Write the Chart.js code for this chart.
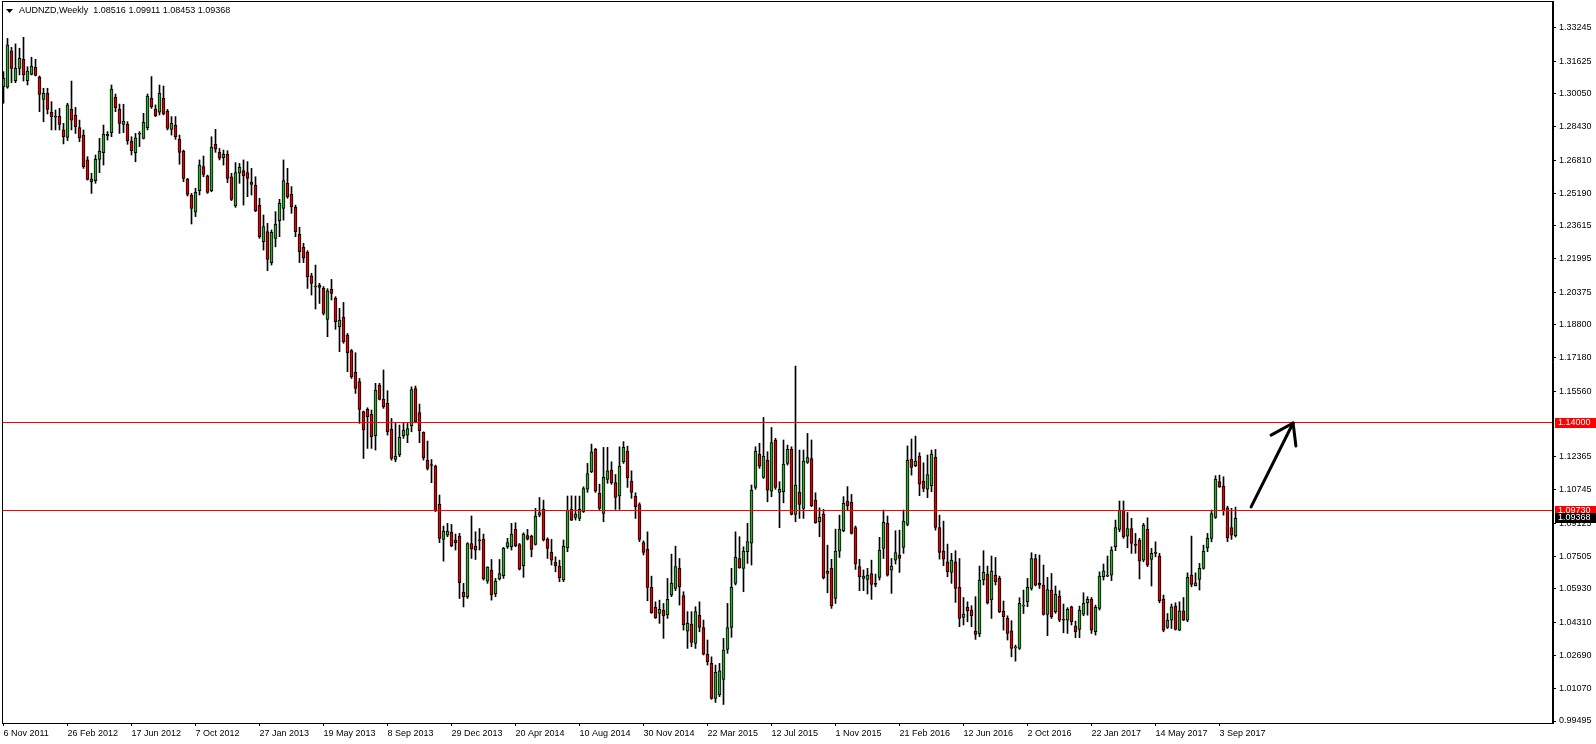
<!DOCTYPE html>
<html>
<head>
<meta charset="utf-8">
<title>AUDNZD, Weekly</title>
<script src="https://cdn.jsdelivr.net/npm/chart.js@4.4.1/dist/chart.umd.min.js"></script>
<style>
  html, body { margin: 0; padding: 0; background: #ffffff; }
  #wrap { width: 1596px; height: 744px; }
</style>
</head>
<body>
<div id="wrap"><canvas id="myChart" width="1596" height="744"></canvas></div>
<script>
// data: SYMBOL, AXIS LABELS
var symbolName = "AUDNZD";
var timeframe = "Weekly";
var xTickLabels = ["6 Nov 2011", "26 Feb 2012", "17 Jun 2012", "7 Oct 2012", "27 Jan 2013", "19 May 2013",
    "8 Sep 2013", "29 Dec 2013", "20 Apr 2014", "10 Aug 2014", "30 Nov 2014", "22 Mar 2015", "12 Jul 2015",
    "1 Nov 2015", "21 Feb 2016", "12 Jun 2016", "2 Oct 2016", "22 Jan 2017", "14 May 2017", "3 Sep 2017"];
var weeksPerLabel = 16;
var yTickValues = [1.33245, 1.31625, 1.30050, 1.28430, 1.26810, 1.25190, 1.23615, 1.21995, 1.20375, 1.18800,
    1.17180, 1.15560, 1.12365, 1.10745, 1.09125, 1.07505, 1.05930, 1.04310, 1.02690, 1.01070, 0.99495];
var yMin = 0.993976;
var yMax = 1.345599;

// data: WEEKLY CANDLES (one value per week, starting 6 Nov 2011)
var opens = [
    1.3039, 1.3036, 1.3213, 1.3068, 1.3128, 1.3172, 1.3068, 1.3099, 1.3133, 1.3084,
    1.2977, 1.3006, 1.2914, 1.2896, 1.2894, 1.2828, 1.2792, 1.2928, 1.2901, 1.2839,
    1.2803, 1.2682, 1.2576, 1.2581, 1.2685, 1.2717, 1.2800, 1.2815, 1.2987, 1.2930,
    1.2855, 1.2855, 1.2774, 1.2717, 1.2807, 1.2787, 1.2839, 1.2982, 1.2930, 1.2914,
    1.2982, 1.2920, 1.2831, 1.2850, 1.2784, 1.2725, 1.2589, 1.2511, 1.2427, 1.2532,
    1.2649, 1.2604, 1.2532, 1.2758, 1.2719, 1.2693, 1.2709, 1.2600, 1.2458, 1.2617,
    1.2630, 1.2620, 1.2573, 1.2558, 1.2461, 1.2284, 1.2333, 1.2182, 1.2300, 1.2386,
    1.2446, 1.2568, 1.2514, 1.2451, 1.2320, 1.2256, 1.2232, 1.2117, 1.2063, 1.2073,
    1.2057, 1.1905, 1.2052, 1.2008, 1.1870, 1.1915, 1.1829, 1.1753, 1.1647, 1.1602,
    1.1456, 1.1467, 1.1443, 1.1339, 1.1586, 1.1516, 1.1496, 1.1371, 1.1224, 1.1245,
    1.1339, 1.1342, 1.1386, 1.1569, 1.1452, 1.1355, 1.1220, 1.1198, 1.1191, 1.1006,
    1.0834, 1.0855, 1.0870, 1.0831, 1.0850, 1.0576, 1.0555, 1.0814, 1.0801, 1.0831,
    1.0835, 1.0631, 1.0685, 1.0568, 1.0641, 1.0657, 1.0798, 1.0798, 1.0883, 1.0809,
    1.0706, 1.0852, 1.0850, 1.0809, 1.0952, 1.0980, 1.0835, 1.0771, 1.0722, 1.0704,
    1.0636, 1.0793, 1.0982, 1.0941, 1.0936, 1.0969, 1.1079, 1.1163, 1.1272, 1.1058,
    1.0960, 1.1126, 1.1172, 1.1111, 1.1046, 1.1212, 1.1264, 1.1118, 1.1045, 1.1004,
    1.0819, 1.0785, 1.0600, 1.0503, 1.0474, 1.0490, 1.0466, 1.0563, 1.0595, 1.0693,
    1.0560, 1.0387, 1.0422, 1.0327, 1.0465, 1.0404, 1.0275, 1.0230, 1.0059, 1.0076,
    1.0152, 1.0298, 1.0405, 1.0620, 1.0741, 1.0693, 1.0774, 1.0815, 1.1087, 1.1248,
    1.1136, 1.1220, 1.1069, 1.1318, 1.1063, 1.1066, 1.1204, 1.1272, 1.0956, 1.1063,
    1.0985, 1.1209, 1.1228, 1.1026, 1.0920, 1.0957, 1.0668, 1.0693, 1.0547, 1.0776,
    1.0876, 1.1021, 1.1014, 1.0892, 1.0701, 1.0644, 1.0639, 1.0668, 1.0620, 1.0649,
    1.0790, 1.0912, 1.0684, 1.0733, 1.0758, 1.0795, 1.0907, 1.1225, 1.1193, 1.1240,
    1.1118, 1.1079, 1.1095, 1.1233, 1.0892, 1.0777, 1.0725, 1.0673, 1.0725, 1.0600,
    1.0454, 1.0503, 1.0490, 1.0387, 1.0373, 1.0636, 1.0665, 1.0539, 1.0660, 1.0644,
    1.0485, 1.0449, 1.0389, 1.0305, 1.0303, 1.0509, 1.0530, 1.0595, 1.0741, 1.0620,
    1.0611, 1.0469, 1.0587, 1.0482, 1.0558, 1.0444, 1.0441, 1.0506, 1.0412, 1.0396,
    1.0470, 1.0525, 1.0542, 1.0384, 1.0498, 1.0652, 1.0655, 1.0660, 1.0798, 1.0883,
    1.0977, 1.0850, 1.0887, 1.0811, 1.0831, 1.0733, 1.0883, 1.0736, 1.0770, 1.0753,
    1.0543, 1.0405, 1.0441, 1.0509, 1.0392, 1.0486, 1.0441, 1.0660, 1.0608, 1.0639,
    1.0693, 1.0793, 1.0839, 1.0941, 1.1115, 1.1094, 1.0988, 1.0891, 1.08516
];
var highs = [
    1.3112, 1.3274, 1.3230, 1.3247, 1.3226, 1.3279, 1.3136, 1.3182, 1.3172, 1.3091,
    1.3031, 1.3031, 1.2966, 1.2925, 1.2933, 1.2860, 1.2958, 1.3066, 1.2938, 1.2876,
    1.2828, 1.2698, 1.2617, 1.2706, 1.2787, 1.2852, 1.2820, 1.3047, 1.3003, 1.2954,
    1.2953, 1.2868, 1.2795, 1.2811, 1.2820, 1.2909, 1.3003, 1.3088, 1.2950, 1.3047,
    1.3042, 1.2928, 1.2893, 1.2893, 1.2803, 1.2730, 1.2592, 1.2519, 1.2544, 1.2682,
    1.2701, 1.2608, 1.2795, 1.2831, 1.2738, 1.2730, 1.2727, 1.2617, 1.2669, 1.2665,
    1.2682, 1.2674, 1.2641, 1.2600, 1.2495, 1.2414, 1.2373, 1.2341, 1.2430, 1.2490,
    1.2682, 1.2641, 1.2552, 1.2462, 1.2354, 1.2276, 1.2240, 1.2130, 1.2170, 1.2081,
    1.2065, 1.2055, 1.2100, 1.2016, 1.1959, 1.1988, 1.1837, 1.1759, 1.1743, 1.1618,
    1.1459, 1.1475, 1.1464, 1.1594, 1.1594, 1.1659, 1.1558, 1.1423, 1.1399, 1.1391,
    1.1402, 1.1399, 1.1577, 1.1581, 1.1493, 1.1358, 1.1313, 1.1223, 1.1196, 1.1050,
    1.0899, 1.0912, 1.0907, 1.0860, 1.0863, 1.0620, 1.0818, 1.0948, 1.0871, 1.0887,
    1.0860, 1.0701, 1.0736, 1.0644, 1.0736, 1.0795, 1.0839, 1.0912, 1.0915, 1.0814,
    1.0866, 1.0883, 1.0855, 1.0985, 1.1038, 1.1025, 1.0842, 1.0834, 1.0749, 1.0733,
    1.0831, 1.1045, 1.1046, 1.1045, 1.1045, 1.1090, 1.1204, 1.1298, 1.1277, 1.1103,
    1.1282, 1.1282, 1.1212, 1.1150, 1.1285, 1.1310, 1.1288, 1.1168, 1.1061, 1.1012,
    1.0827, 1.0871, 1.0655, 1.0530, 1.0538, 1.0522, 1.0644, 1.0762, 1.0801, 1.0741,
    1.0579, 1.0482, 1.0482, 1.0506, 1.0530, 1.0441, 1.0344, 1.0262, 1.0222, 1.0230,
    1.0352, 1.0522, 1.0693, 1.0871, 1.0847, 1.0798, 1.0912, 1.1099, 1.1285, 1.1302,
    1.1428, 1.1261, 1.1379, 1.1326, 1.1115, 1.1318, 1.1293, 1.1285, 1.1678, 1.1269,
    1.1269, 1.1350, 1.1318, 1.1061, 1.0988, 1.0980, 1.0806, 1.0737, 1.0884, 1.0952,
    1.1042, 1.1091, 1.1053, 1.0899, 1.0737, 1.0685, 1.0693, 1.0733, 1.0665, 1.0844,
    1.0977, 1.0948, 1.0741, 1.0876, 1.0879, 1.0977, 1.1289, 1.1323, 1.1337, 1.1256,
    1.1207, 1.1245, 1.1269, 1.1272, 1.0952, 1.0923, 1.0811, 1.0766, 1.0779, 1.0741,
    1.0551, 1.0530, 1.0511, 1.0555, 1.0704, 1.0779, 1.0704, 1.0753, 1.0746, 1.0655,
    1.0534, 1.0462, 1.0438, 1.0319, 1.0550, 1.0587, 1.0644, 1.0769, 1.0761, 1.0758,
    1.0709, 1.0649, 1.0668, 1.0607, 1.0584, 1.0519, 1.0501, 1.0509, 1.0436, 1.0509,
    1.0574, 1.0555, 1.0551, 1.0514, 1.0676, 1.0714, 1.0753, 1.0798, 1.0928, 1.1021,
    1.1021, 1.0965, 1.0936, 1.0863, 1.0839, 1.0912, 1.0939, 1.0790, 1.0822, 1.0766,
    1.0563, 1.0473, 1.0519, 1.0525, 1.0530, 1.0551, 1.0671, 1.0850, 1.0671, 1.0717,
    1.0806, 1.0863, 1.0977, 1.1144, 1.1147, 1.1139, 1.0996, 1.0985, 1.09911
];
var lows = [
    1.2958, 1.3031, 1.3058, 1.3058, 1.3096, 1.3066, 1.3047, 1.3096, 1.3091, 1.2917,
    1.2868, 1.2906, 1.2828, 1.2828, 1.2828, 1.2760, 1.2776, 1.2828, 1.2811, 1.2771,
    1.2641, 1.2584, 1.2519, 1.2568, 1.2620, 1.2657, 1.2779, 1.2795, 1.2917, 1.2811,
    1.2815, 1.2758, 1.2706, 1.2673, 1.2747, 1.2784, 1.2828, 1.2933, 1.2893, 1.2901,
    1.2901, 1.2828, 1.2803, 1.2782, 1.2661, 1.2576, 1.2506, 1.2370, 1.2406, 1.2511,
    1.2600, 1.2519, 1.2527, 1.2719, 1.2682, 1.2657, 1.2571, 1.2484, 1.2451, 1.2568,
    1.2462, 1.2503, 1.2511, 1.2430, 1.2300, 1.2243, 1.2143, 1.2170, 1.2259, 1.2308,
    1.2389, 1.2495, 1.2422, 1.2308, 1.2182, 1.2182, 1.2056, 1.2024, 1.1956, 1.1983,
    1.1927, 1.1821, 1.2000, 1.1857, 1.1748, 1.1789, 1.1651, 1.1618, 1.1545, 1.1399,
    1.1228, 1.1277, 1.1277, 1.1269, 1.1513, 1.1472, 1.1342, 1.1220, 1.1212, 1.1237,
    1.1326, 1.1305, 1.1358, 1.1402, 1.1305, 1.1220, 1.1172, 1.1110, 1.0969, 1.0818,
    1.0728, 1.0847, 1.0798, 1.0782, 1.0546, 1.0505, 1.0546, 1.0741, 1.0736, 1.0782,
    1.0636, 1.0620, 1.0538, 1.0555, 1.0636, 1.0644, 1.0790, 1.0782, 1.0798, 1.0685,
    1.0649, 1.0831, 1.0749, 1.0806, 1.0944, 1.0826, 1.0741, 1.0709, 1.0676, 1.0628,
    1.0628, 1.0774, 1.0925, 1.0928, 1.0925, 1.0965, 1.1063, 1.1159, 1.1063, 1.0977,
    1.0920, 1.1107, 1.1102, 1.0980, 1.0980, 1.1204, 1.1087, 1.1034, 1.0936, 1.0823,
    1.0758, 1.0535, 1.0474, 1.0449, 1.0425, 1.0352, 1.0449, 1.0555, 1.0584, 1.0514,
    1.0392, 1.0303, 1.0311, 1.0303, 1.0384, 1.0271, 1.0222, 1.0055, 1.0040, 1.0068,
    1.0030, 1.0279, 1.0357, 1.0612, 1.0693, 1.0579, 1.0717, 1.0709, 1.1078, 1.1180,
    1.1131, 1.1017, 1.1042, 1.1078, 1.0891, 1.1012, 1.1196, 1.0953, 1.0920, 1.0936,
    1.0936, 1.1204, 1.0993, 1.0912, 1.0847, 1.0641, 1.0574, 1.0498, 1.0522, 1.0746,
    1.0871, 1.0977, 1.0860, 1.0688, 1.0584, 1.0584, 1.0568, 1.0542, 1.0603, 1.0636,
    1.0741, 1.0655, 1.0571, 1.0714, 1.0673, 1.0766, 1.0900, 1.1147, 1.1188, 1.1047,
    1.1066, 1.1037, 1.1066, 1.0879, 1.0738, 1.0706, 1.0652, 1.0620, 1.0527, 1.0409,
    1.0417, 1.0433, 1.0409, 1.0347, 1.0360, 1.0612, 1.0519, 1.0449, 1.0612, 1.0477,
    1.0392, 1.0344, 1.0262, 1.0241, 1.0298, 1.0473, 1.0506, 1.0587, 1.0607, 1.0595,
    1.0465, 1.0365, 1.0449, 1.0474, 1.0433, 1.0379, 1.0376, 1.0417, 1.0355, 1.0355,
    1.0462, 1.0465, 1.0376, 1.0368, 1.0490, 1.0636, 1.0652, 1.0633, 1.0779, 1.0871,
    1.0839, 1.0793, 1.0766, 1.0766, 1.0641, 1.0725, 1.0701, 1.0607, 1.0749, 1.0525,
    1.0384, 1.0400, 1.0400, 1.0392, 1.0389, 1.0438, 1.0433, 1.0603, 1.0607, 1.0587,
    1.0689, 1.0774, 1.0822, 1.0936, 1.1087, 1.0952, 1.0823, 1.0834, 1.08453
];
var closes = [
    1.3079, 1.3242, 1.3128, 1.3128, 1.3177, 1.3096, 1.3115, 1.3139, 1.3094, 1.3001,
    1.3006, 1.2928, 1.2893, 1.2890, 1.2855, 1.2795, 1.2950, 1.2876, 1.2844, 1.2790,
    1.2649, 1.2587, 1.2589, 1.2685, 1.2725, 1.2808, 1.2807, 1.3027, 1.2937, 1.2860,
    1.2871, 1.2776, 1.2727, 1.2790, 1.2811, 1.2865, 1.2993, 1.2941, 1.2898, 1.3006,
    1.2906, 1.2836, 1.2860, 1.2795, 1.2719, 1.2592, 1.2514, 1.2446, 1.2524, 1.2657,
    1.2612, 1.2524, 1.2745, 1.2734, 1.2690, 1.2709, 1.2592, 1.2490, 1.2620, 1.2646,
    1.2604, 1.2592, 1.2563, 1.2435, 1.2308, 1.2357, 1.2198, 1.2329, 1.2368, 1.2471,
    1.2581, 1.2503, 1.2454, 1.2333, 1.2235, 1.2203, 1.2113, 1.2081, 1.2066, 1.2061,
    1.1935, 1.2045, 1.2032, 1.1894, 1.1902, 1.1797, 1.1743, 1.1626, 1.1569, 1.1467,
    1.1367, 1.1431, 1.1334, 1.1561, 1.1516, 1.1480, 1.1358, 1.1228, 1.1240, 1.1331,
    1.1366, 1.1374, 1.1564, 1.1407, 1.1363, 1.1232, 1.1180, 1.1194, 1.0973, 1.0839,
    1.0874, 1.0874, 1.0803, 1.0818, 1.0623, 1.0555, 1.0814, 1.0787, 1.0782, 1.0827,
    1.0641, 1.0698, 1.0563, 1.0631, 1.0668, 1.0790, 1.0818, 1.0860, 1.0803, 1.0689,
    1.0860, 1.0835, 1.0785, 1.0948, 1.0965, 1.0831, 1.0790, 1.0733, 1.0706, 1.0647,
    1.0801, 1.0977, 1.0928, 1.0957, 1.0980, 1.1082, 1.1155, 1.1261, 1.1069, 1.0985,
    1.1136, 1.1168, 1.1110, 1.1038, 1.1191, 1.1282, 1.1134, 1.1063, 1.0993, 1.0834,
    1.0771, 1.0600, 1.0477, 1.0452, 1.0493, 1.0461, 1.0542, 1.0620, 1.0701, 1.0603,
    1.0417, 1.0425, 1.0332, 1.0482, 1.0405, 1.0275, 1.0238, 1.0059, 1.0186, 1.0194,
    1.0295, 1.0405, 1.0600, 1.0746, 1.0696, 1.0777, 1.0823, 1.1074, 1.1264, 1.1191,
    1.1240, 1.1074, 1.1306, 1.1087, 1.1079, 1.1201, 1.1272, 1.0956, 1.1099, 1.1004,
    1.1215, 1.1232, 1.0998, 1.0915, 1.0943, 1.0647, 1.0680, 1.0511, 1.0777, 1.0884,
    1.1009, 1.0998, 1.0863, 1.0714, 1.0652, 1.0655, 1.0660, 1.0615, 1.0615, 1.0782,
    1.0917, 1.0660, 1.0704, 1.0770, 1.0741, 1.0923, 1.1220, 1.1185, 1.1215, 1.1103,
    1.1082, 1.1150, 1.1250, 1.0892, 1.0771, 1.0738, 1.0676, 1.0733, 1.0595, 1.0449,
    1.0470, 1.0486, 1.0462, 1.0371, 1.0636, 1.0673, 1.0525, 1.0680, 1.0628, 1.0482,
    1.0457, 1.0376, 1.0303, 1.0311, 1.0522, 1.0514, 1.0600, 1.0741, 1.0611, 1.0611,
    1.0469, 1.0590, 1.0457, 1.0567, 1.0441, 1.0440, 1.0493, 1.0433, 1.0384, 1.0490,
    1.0522, 1.0542, 1.0392, 1.0503, 1.0655, 1.0681, 1.0660, 1.0782, 1.0892, 1.0977,
    1.0847, 1.0887, 1.0814, 1.0804, 1.0728, 1.0904, 1.0709, 1.0766, 1.0766, 1.0535,
    1.0392, 1.0441, 1.0506, 1.0396, 1.0486, 1.0441, 1.0649, 1.0615, 1.0623, 1.0693,
    1.0777, 1.0839, 1.0960, 1.1128, 1.1090, 1.0973, 1.0842, 1.0855, 1.09368
];

// data: DRAWN OBJECTS (horizontal levels and the hand drawn arrow, in week index / price)
var levels = [1.14000, 1.09730];
var arrowLine = [[311.9, 1.0992], [322.4, 1.1401]];
var arrowHead = [[316.9, 1.1342], [322.4, 1.1401], [323.1, 1.1289]];

var xMin = -0.375;
var xMax = 387.375;
var bullColor = "#33a833";
var bearColor = "#e00000";
var levelColor = "#ff0000";

// build the chart series from the arrays above
var bodies = closes.map(function(c, i) {
    return { x: i, y: [opens[i], c] };
});
var wicks = highs.map(function(h, i) {
    return { x: i, y: [lows[i], h] };
});
var bodyColors = closes.map(function(c, i) {
    return c >= opens[i] ? bullColor : bearColor;
});

// plugin: LEVEL LINES, FRAME, HEADER, PRICE BOXES, ARROW
var mtDecor = {
    id: "mtDecor",
    afterDatasetsDraw: function(chart) {
        var ctx = chart.ctx;
        var area = chart.chartArea;
        var ys = chart.scales.y;
        ctx.save();
        ctx.strokeStyle = levelColor;
        ctx.lineWidth = 1;
        levels.forEach(function(lv) {
            var y = Math.round(ys.getPixelForValue(lv)) - 0.5;
            ctx.beginPath();
            ctx.moveTo(area.left, y);
            ctx.lineTo(area.right, y);
            ctx.stroke();
        });
        ctx.restore();
    },
    afterDraw: function(chart) {
        var ctx = chart.ctx;
        var area = chart.chartArea;
        var xs = chart.scales.x;
        var ys = chart.scales.y;
        ctx.save();

        // frame round the plot
        ctx.strokeStyle = "#000";
        ctx.lineWidth = 1;
        ctx.strokeRect(Math.round(area.left) + 0.5, Math.round(area.top) + 0.5,
            Math.round(area.right - area.left) - 1, Math.round(area.bottom - area.top));

        // header: symbol, timeframe and last candle
        var n = closes.length - 1;
        ctx.fillStyle = "#000";
        ctx.beginPath();
        ctx.moveTo(6, 9);
        ctx.lineTo(13, 9);
        ctx.lineTo(9.5, 13);
        ctx.closePath();
        ctx.fill();
        ctx.font = "9px 'Liberation Sans'";
        ctx.textBaseline = "middle";
        ctx.textAlign = "left";
        ctx.fillText(symbolName + "," + timeframe + "  " + opens[n].toFixed(5) + " " + highs[n].toFixed(5) +
            " " + lows[n].toFixed(5) + " " + closes[n].toFixed(5), 19, 11);

        // price boxes on the right axis
        var boxes = levels.map(function(lv) { return { v: lv, c: levelColor }; });
        boxes.push({ v: closes[n], c: "#000" });
        boxes.forEach(function(b) {
            var y = Math.round(ys.getPixelForValue(b.v));
            ctx.fillStyle = b.c;
            ctx.fillRect(area.right + 2, y - 5, chart.width - area.right - 2, 10);
            ctx.fillStyle = "#fff";
            ctx.fillText(b.v.toFixed(5), area.right + 5, y);
        });

        // arrow
        ctx.strokeStyle = "#000";
        ctx.lineWidth = 3;
        ctx.lineCap = "round";
        ctx.lineJoin = "round";
        ctx.beginPath();
        ctx.moveTo(xs.getPixelForValue(arrowLine[0][0]), ys.getPixelForValue(arrowLine[0][1]));
        ctx.lineTo(xs.getPixelForValue(arrowLine[1][0]), ys.getPixelForValue(arrowLine[1][1]));
        ctx.stroke();
        ctx.beginPath();
        arrowHead.forEach(function(p, k) {
            var px = xs.getPixelForValue(p[0]);
            var py = ys.getPixelForValue(p[1]);
            if (k === 0) ctx.moveTo(px, py); else ctx.lineTo(px, py);
        });
        ctx.stroke();
        ctx.restore();
    }
};

Chart.defaults.font.family = "'Liberation Sans', Arial, sans-serif";
Chart.defaults.font.size = 9;
Chart.defaults.color = "#000";

var myChart = document.getElementById("myChart").getContext("2d");

var weeklyChart = new Chart(myChart, {
    type: "bar",
    data: {
        datasets: [
            {
                label: "bodies",
                data: bodies,
                backgroundColor: bodyColors,
                borderColor: "#000",
                borderWidth: 1,
                borderSkipped: false,
                barThickness: 3,
                minBarLength: 1,
                grouped: false,
                order: 1
            },
            {
                label: "wicks",
                data: wicks,
                backgroundColor: "#000",
                borderWidth: 0,
                barThickness: 1,
                grouped: false,
                order: 2
            }
        ]
    },
    options: {
        responsive: false,
        animation: false,
        layout: { padding: { left: 2, top: 1, right: 0, bottom: 0 } },
        plugins: {
            legend: { display: false },
            tooltip: { enabled: false }
        },
        scales: {
            x: {
                type: "linear",
                offset: false,
                min: xMin,
                max: xMax,
                grid: { display: true, offset: false, drawOnChartArea: false, drawTicks: true, tickLength: 3, color: "#000" },
                border: { display: true, color: "#000" },
                ticks: {
                    autoSkip: false,
                    maxRotation: 0,
                    align: "start",
                    padding: 2,
                    callback: function(v, idx) { return xTickLabels[idx]; }
                },
                afterBuildTicks: function(scale) {
                    scale.ticks = xTickLabels.map(function(l, k) { return { value: k * weeksPerLabel }; });
                },
                afterFit: function(scale) {
                    scale.height = 21;
                    scale.paddingLeft = 0;
                    scale.paddingRight = 0;
                }
            },
            y: {
                type: "linear",
                position: "right",
                min: yMin,
                max: yMax,
                grid: { display: true, drawOnChartArea: false, drawTicks: true, tickLength: 3, color: "#000" },
                border: { display: true, color: "#000" },
                ticks: {
                    autoSkip: false,
                    padding: 3,
                    callback: function(v) { return Number(v).toFixed(5); }
                },
                afterBuildTicks: function(scale) {
                    scale.ticks = yTickValues.map(function(v) { return { value: v }; });
                },
                afterFit: function(scale) {
                    scale.width = 43;
                    scale.paddingTop = 0;
                    scale.paddingBottom = 0;
                }
            }
        }
    },
    plugins: [mtDecor]
});
</script>
</body>
</html>
